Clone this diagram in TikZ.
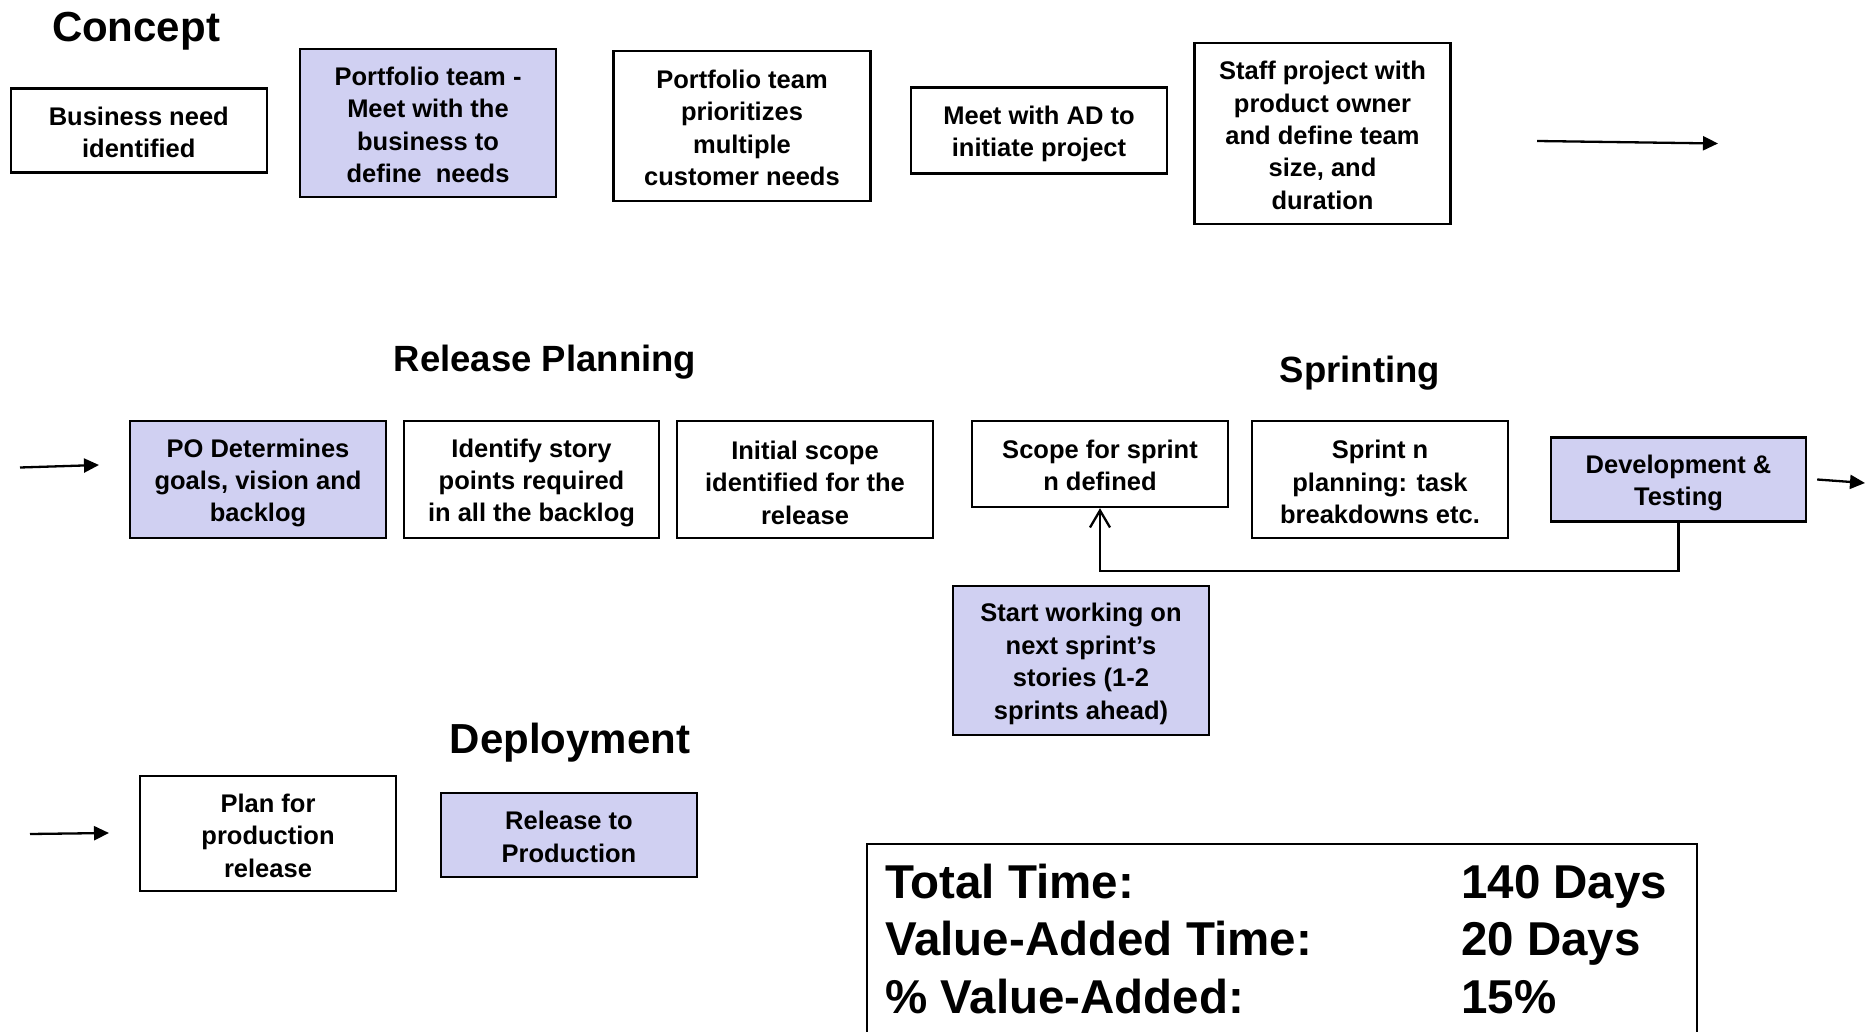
\documentclass[tikz,border=0pt]{standalone}
\usepackage{fontspec}
\setmainfont{Liberation Sans}
\usetikzlibrary{arrows.meta}
\definecolor{lav}{RGB}{208,208,242}
\newcommand\boxfont{\fontsize{25.5}{32.4}\selectfont\bfseries}
\newcommand\bigtitle{\fontsize{42}{48}\selectfont\bfseries}
\newcommand\midtitle{\fontsize{36.5}{42}\selectfont\bfseries}
\newcommand\sumfont{\fontsize{47.5}{57}\selectfont\bfseries}
\tikzset{
  frame/.style={draw, line width=2.4pt, minimum width=256pt, inner sep=0pt},
  steptext/.style={inner sep=0pt, align=center, font=\boxfont},
  hl/.style={fill=lav},
  flow/.style={line width=2.3pt, -{Triangle[length=15pt,width=14pt]}},
  loopback/.style={line width=2.3pt, -{Straight Barb[length=17pt,width=20pt,line width=2.3pt]}},
  phase/.style={anchor=base, inner sep=0pt},
  sumtext/.style={anchor=base west, inner sep=0pt, font=\sumfont},
}
\begin{document}
\begin{tikzpicture}[x=1pt, y=-1pt]
\useasboundingbox (0,0) rectangle (1875,1032);
\clip (0,0) rectangle (1875,1032);

% phase titles
\node[phase, font=\bigtitle] (tconcept) at (136,42) {Concept};
\node[phase, font=\midtitle] (trelease) at (545,372) {Release Planning};
\node[phase, font=\midtitle] (tsprint) at (1360,382) {Sprinting};
\node[phase, font=\bigtitle] (tdeploy) at (570,753) {Deployment};

% concept steps
\node[frame, minimum height=84] (b1) at (138.8,130.4) {};
\node[steptext] (b1t) at ([yshift=-2pt]b1.center) {Business need\\identified};
\node[frame, hl, minimum height=148] (b2) at (428,123) {};
\node[steptext] (b2t) at ([yshift=-2pt]b2.center) {Portfolio team -\\Meet with the\\business to\\define\ \ needs};
\node[frame, minimum height=150, minimum width=257] (b3) at (742,126) {};
\node[steptext] (b3t) at ([yshift=-2pt]b3.center) {Portfolio team\\prioritizes\\multiple\\customer needs};
\node[frame, minimum height=86] (b4) at (1039,130.4) {};
\node[steptext] (b4t) at ([yshift=-3.5pt]b4.center) {Meet with AD to\\initiate project};
\node[frame, minimum height=181] (b5) at (1322.5,133.3) {};
\node[steptext] (b5t) at ([yshift=-2pt]b5.center) {Staff project with\\product owner\\and define team\\size, and\\duration};
\coordinate (a1s) at (1537,141);
\coordinate (a1e) at (1718,143.5);
\draw[flow] (a1s) -- (a1e);

% release planning steps
\coordinate (a2s) at (20,467.5);
\coordinate (a2e) at (99,465);
\draw[flow] (a2s) -- (a2e);
\node[frame, hl, minimum height=117] (b6) at (258,479.5) {};
\node[steptext] (b6t) at ([yshift=-3.5pt]b6.center) {PO Determines\\goals, vision and\\backlog};
\node[frame, minimum height=117, minimum width=255] (b7) at (531.5,479.5) {};
\node[steptext] (b7t) at ([yshift=-3.5pt]b7.center) {Identify story\\points required\\in all the backlog};
\node[frame, minimum height=117] (b8) at (805,479.5) {};
\node[steptext] (b8t) at ([yshift=-3pt]b8.center) {Initial scope\\identified for the\\release};

% sprinting steps
\node[frame, minimum height=86] (b9) at (1100,464) {};
\node[steptext] (b9t) at ([yshift=-1.5pt]b9.center) {Scope for sprint\\n defined};
\node[frame, minimum height=117] (b10) at (1380,479.5) {};
\node[steptext] (b10t) at ([yshift=-2.5pt]b10.center) {Sprint n\\planning: task\\breakdowns etc.};
\node[frame, hl, minimum height=84, minimum width=255] (b11) at (1678.5,479.5) {};
\node[steptext] (b11t) at ([yshift=-3.5pt]b11.center) {Development \&\\Testing};
\node[frame, hl, minimum height=149] (b12) at (1081,660.5) {};
\node[steptext] (b12t) at ([yshift=-3.5pt]b12.center) {Start working on\\next sprint’s\\stories (1-2\\sprints ahead)};
\draw[loopback] (b11.south) -- ++(0,48) -| (b9.south);
\coordinate (a3e) at (1865,483);
\draw[flow] (b11.east) ++(10,0) -- (a3e);

% deployment steps
\coordinate (a4s) at (30,834);
\coordinate (a4e) at (109,833);
\draw[flow] (a4s) -- (a4e);
\node[frame, minimum height=115] (b13) at (268,833.5) {};
\node[steptext] (b13t) at ([yshift=-2pt]b13.center) {Plan for\\production\\release};
\node[frame, hl, minimum height=84] (b14) at (569,834.7) {};
\node[steptext] (b14t) at ([yshift=-2pt]b14.center) {Release to\\Production};

% summary
\node[frame, minimum width=830, minimum height=220, anchor=north west] (summary) at (866,843) {};
\node[sumtext] (l1) at (885,898) {Total Time:};
\node[sumtext] (l2) at (885,955) {Value-Added Time:};
\node[sumtext] (l3) at (885,1013) {\% Value-Added:};
\node[sumtext] (v1) at (1461,898) {140 Days};
\node[sumtext] (v2) at (1461,955) {20 Days};
\node[sumtext] (v3) at (1461,1013) {15\%};
\end{tikzpicture}
\end{document}
